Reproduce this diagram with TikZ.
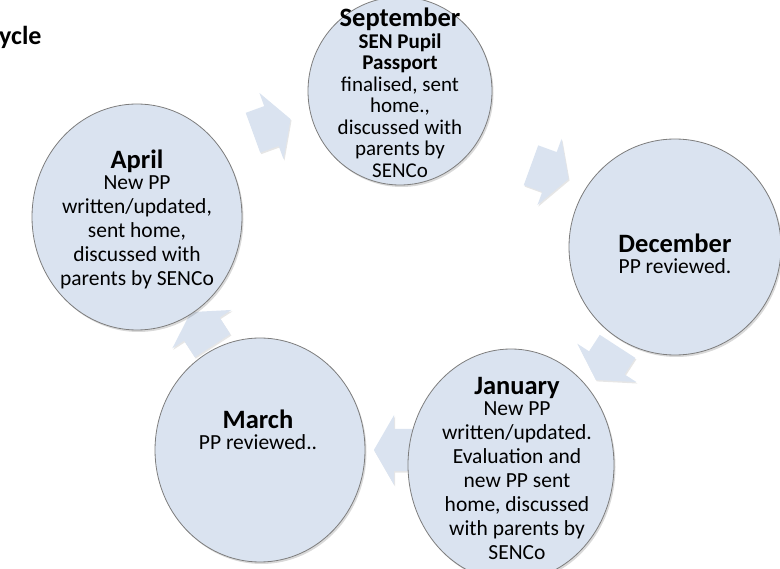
\documentclass[tikz,border=0pt]{standalone}
\usepackage{fontspec}
\setmainfont{Carlito}
\usetikzlibrary{positioning, shapes.arrows, shapes.geometric, calc, shadows, backgrounds}

\definecolor{cyclefill}{RGB}{218,227,240}
\definecolor{cycleedge}{RGB}{125,125,125}

\newcommand{\monthname}[1]{{\fontsize{26.5}{30}\selectfont\bfseries #1}}

\begin{document}
\begin{tikzpicture}[
				x=1pt, y=-1pt,
				month/.style={ellipse, inner sep=0pt, fill=cyclefill, draw=cycleedge, line width=0.8pt,
					drop shadow={opacity=0.3, shadow xshift=1.5pt, shadow yshift=-2pt}},
				monthtext/.style={align=center, inner sep=0pt, font=\fontsize{21.5}{24}\selectfont},
				cyclearrow/.style={single arrow, fill=cyclefill, inner xsep=0pt, inner ysep=21pt, minimum height=40pt,
					single arrow head extend=14pt, single arrow tip angle=120,
					drop shadow={opacity=0.2, shadow xshift=1pt, shadow yshift=-1.5pt}}
				]
				\useasboundingbox (0,0) rectangle (780,569);
				\node[anchor=west, inner sep=0pt, font=\fontsize{26}{30}\selectfont\bfseries] (title) at (-1,37) {ycle};
				% the five months
				\node[month, minimum width=184pt, minimum height=188pt] (sep) at (400,91) {};
				\node[month, minimum width=212pt, minimum height=216pt] (dec) at (675,247) {};
				\node[month, minimum width=206pt, minimum height=232pt] (jan) at (511,465) {};
				\node[month, minimum width=210pt, minimum height=224pt] (mar) at (260,450) {};
				\node[month, minimum width=210pt, minimum height=226pt] (apr) at (137,217) {};
				% arrows behind the months
				\begin{scope}[on background layer]
					\node[cyclearrow, rotate=20] (aprsep) at ($(apr)!0.5!(sep)+(-2.5,-26)$) {};
					\node[cyclearrow, rotate=-20] (sepdec) at ($(sep)!0.5!(dec)+(6.5,1)$) {};
					\node[cyclearrow, rotate=-123] (decjan) at ($(dec)!0.5!(jan)+(17,2)$) {};
					\node[cyclearrow, rotate=180] (janmar) at ($(jan)!0.5!(mar)+(14.5,-7.5)$) {};
					\node[cyclearrow, rotate=123] (marapr) at ($(mar)!0.5!(apr)+(6.5,0.5)$) {};
				\end{scope}
				% texts
				\node[monthtext, font=\fontsize{21}{21.5}\selectfont] (septxt) at ($(sep)+(0,2)$) {\monthname{September}\\ \textbf{SEN Pupil}\\ \textbf{Passport}\\ finalised, sent\\ home.,\\ discussed with\\ parents by\\ SENCo};
				\node[monthtext] (dectxt) at ($(dec)+(0,7)$) {\monthname{December}\\[-3pt] PP reviewed.};
				\node[monthtext] (jantxt) at ($(jan)+(6,3)$) {\monthname{January}\\[-3pt] New PP\\ written/updated.\\ Evaluation and\\ new PP sent\\ home, discussed\\ with parents by\\ SENCo};
				\node[monthtext] (martxt) at ($(mar)+(-2,-20)$) {\monthname{March}\\[-3pt] PP reviewed..};
				\node[monthtext] (aprtxt) at ($(apr)+(0,2)$) {\monthname{April}\\[-3pt] New PP\\ written/updated,\\ sent home,\\ discussed with\\ parents by SENCo};
\end{tikzpicture}
\end{document}
